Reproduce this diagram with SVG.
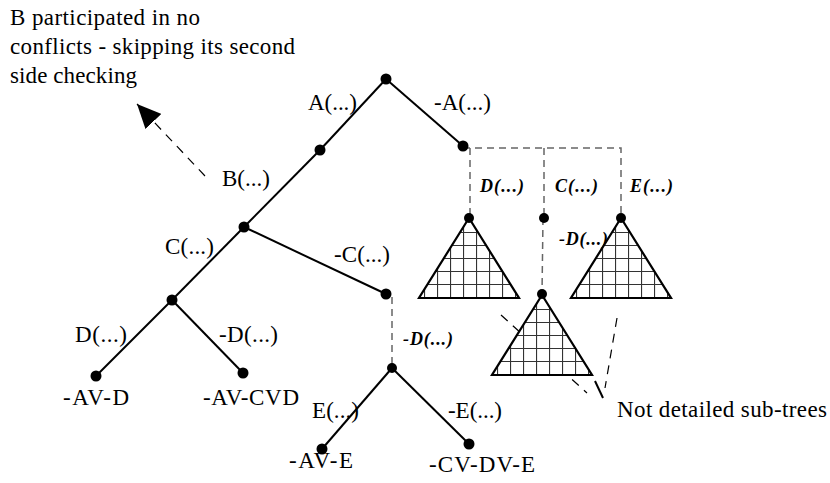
<svg xmlns="http://www.w3.org/2000/svg" width="830" height="483" viewBox="0 0 830 483" font-family="'Liberation Serif', 'Times New Roman', Times, serif">
<style>
  text { font-family: "Liberation Serif", "Times New Roman", Times, serif; fill: #000; }
  .lbl { font-size: 23px; }
  .bi { font-size: 18px; font-weight: bold; font-style: italic; }
  .dot { fill: #000; }
  .edge { stroke: #000; stroke-width: 2; fill: none; }
  .gdash { stroke: #666; stroke-width: 1.5; stroke-dasharray: 7 5; fill: none; }
  .kdash { stroke: #000; stroke-width: 1.2; stroke-dasharray: 9 7; fill: none; }
  .tri { stroke: #000; stroke-width: 2.2; stroke-linejoin: miter; }
</style>
<defs>
  <pattern id="grid" patternUnits="userSpaceOnUse" x="-6" y="1" width="13" height="13">
    <rect width="13" height="13" fill="#fff"/>
    <path d="M0.5,0 V13 M0,0.5 H13" stroke="#333" stroke-width="1.2" fill="none"/>
  </pattern>
  <marker id="arr" markerUnits="userSpaceOnUse" viewBox="0 0 24 22" refX="24" refY="11" markerWidth="24" markerHeight="22" orient="auto">
    <path d="M0,0 L24,11 L0,22 z" fill="#000"/>
  </marker>
</defs>

<g id="connectors">
  <line class="edge" x1="386" y1="79" x2="320" y2="150"/>
  <line class="edge" x1="320" y1="150" x2="244" y2="227"/>
  <line class="edge" x1="244" y1="227" x2="172" y2="300"/>
  <line class="edge" x1="172" y1="300" x2="96" y2="376"/>
  <line class="edge" x1="172" y1="300" x2="243" y2="373"/>
  <line class="edge" x1="244" y1="227" x2="386" y2="294"/>
  <line class="edge" x1="386" y1="79" x2="463" y2="146"/>
  <line class="edge" x1="392" y1="368" x2="322" y2="449"/>
  <line class="edge" x1="392" y1="368" x2="469" y2="444"/>
  <polyline class="gdash" points="463,148 621,148 621,218"/>
  <line class="gdash" x1="470" y1="148" x2="470" y2="218"/>
  <line class="gdash" x1="544" y1="148" x2="544" y2="218"/>
  <line class="gdash" x1="543" y1="218" x2="542" y2="294"/>
  <line class="gdash" x1="392" y1="297" x2="392" y2="368"/>
  <line class="kdash" x1="205" y1="176" x2="137" y2="104" marker-end="url(#arr)"/>
  <line class="kdash" x1="501" y1="315" x2="587" y2="393"/>
  <line class="kdash" x1="617" y1="318" x2="605" y2="388"/>
  <line stroke="#000" stroke-width="2" x1="595" y1="381" x2="603" y2="398"/>
  <text class="lbl" x="308" y="110" textLength="49">A(...)</text>
  <text class="lbl" x="434" y="110" textLength="57">-A(...)</text>
  <text class="lbl" x="222" y="186" textLength="48">B(...)</text>
  <text class="lbl" x="165" y="254" textLength="49">C(...)</text>
  <text class="lbl" x="334" y="262" textLength="56">-C(...)</text>
  <text class="lbl" x="75" y="342" textLength="52">D(...)</text>
  <text class="lbl" x="219" y="342" textLength="59">-D(...)</text>
  <text class="lbl" x="312" y="418" textLength="47">E(...)</text>
  <text class="lbl" x="448" y="418" textLength="54">-E(...)</text>
  <text class="bi" x="480" y="192" textLength="44">D(...)</text>
  <text class="bi" x="555" y="192" textLength="43">C(...)</text>
  <text class="bi" x="630" y="192" textLength="43">E(...)</text>
  <text class="bi" x="559" y="245" textLength="49">-D(...)</text>
  <text class="bi" x="403" y="345" textLength="50">-D(...)</text>
</g>

<g id="note">
  <text class="lbl" x="10" y="25" textLength="190">B participated in no</text>
  <text class="lbl" x="10" y="54" textLength="285">conflicts - skipping its second</text>
  <text class="lbl" x="10" y="83" textLength="127">side checking</text>
</g>

<g id="node-root"><circle class="dot" cx="386" cy="79" r="5.5"/></g>
<g id="node-A"><circle class="dot" cx="320" cy="150" r="5.5"/></g>
<g id="node-notA"><circle class="dot" cx="463" cy="146" r="5.5"/></g>
<g id="node-B"><circle class="dot" cx="244" cy="227" r="5.5"/></g>
<g id="node-C"><circle class="dot" cx="172" cy="300" r="5.5"/></g>
<g id="leaf-AV-D"><circle class="dot" cx="96" cy="376" r="5.5"/><text class="lbl" x="63" y="405" textLength="66">-AV-D</text></g>
<g id="leaf-AV-CVD"><circle class="dot" cx="243" cy="373" r="5.5"/><text class="lbl" x="203" y="405" textLength="96">-AV-CVD</text></g>
<g id="node-notC"><circle class="dot" cx="386" cy="294" r="5.5"/></g>
<g id="node-E"><circle class="dot" cx="392" cy="368" r="5"/></g>
<g id="leaf-AV-E"><circle class="dot" cx="322" cy="449" r="5.5"/><text class="lbl" x="289" y="468" textLength="64">-AV-E</text></g>
<g id="leaf-CV-DV-E"><circle class="dot" cx="469" cy="444" r="5.5"/><text class="lbl" x="429" y="472" textLength="106">-CV-DV-E</text></g>

<g id="subtree-D" transform="translate(469,218)">
  <polygon class="tri" points="0,0 -50,80 50,80" fill="url(#grid)"/>
  <circle class="dot" cx="0" cy="0" r="5"/>
</g>
<g id="node-subC"><circle class="dot" cx="544" cy="218" r="5"/></g>
<g id="subtree-notD" transform="translate(542,295)">
  <polygon class="tri" points="0,0 -50,80 50,80" fill="url(#grid)"/>
  <circle class="dot" cx="0" cy="-1" r="5"/>
</g>
<g id="subtree-E" transform="translate(621,218)">
  <polygon class="tri" points="0,0 -50,80 50,80" fill="url(#grid)"/>
  <circle class="dot" cx="0" cy="0" r="5"/>
</g>
<g id="label-not-detailed">
  <text class="lbl" x="617" y="417" textLength="210">Not detailed sub-trees</text>
</g>
</svg>
